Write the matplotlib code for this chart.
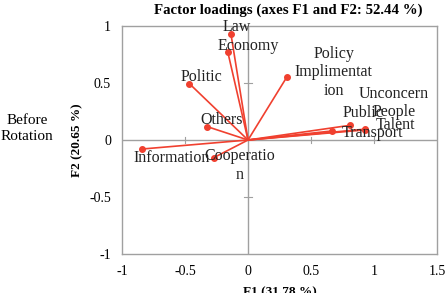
import matplotlib
matplotlib.use('Agg')
import matplotlib.pyplot as plt
import numpy as np

plt.rcParams['font.family'] = ['Liberation Serif', 'DejaVu Serif']

# loadings
variables = ['Law', 'Economy', 'Politic', 'Policy\nImplimentat\nion', 'Others',
             'Public', 'Unconcern\nPeople', 'Talent', 'Transport',
             'Information', 'Cooperatio\nn']
f1 = [-0.135, -0.16, -0.465, 0.307, -0.323, 0.81, 0.928, 0.925, 0.664, -0.839, -0.272]
f2 = [0.927, 0.77, 0.494, 0.55, 0.117, 0.129, 0.095, 0.088, 0.079, -0.079, -0.155]

# label offsets in pixels (dx, dy), y up
label_offsets = [(6, 7), (20, 6), (12, 7), (47, 5), (14, 7), (13, 12),
                 (29, 26), (31, 5), (41, -2), (29, -9), (26, -8)]

xticks = [-1, -0.5, 0, 0.5, 1, 1.5]
yticks = [-1, -0.5, 0, 0.5, 1]

red = '#f0402f'
grey = '#a0a0a0'

fig = plt.figure(figsize=(4.47, 2.93), dpi=100)
ax = fig.add_axes([122 / 447, 1 - 254 / 293, 315 / 447, 228 / 293])

ax.axhline(0, color=grey, lw=1, zorder=1)
ax.axvline(0, color=grey, lw=1, zorder=1)
# small cross ticks on the zero lines
for t in xticks[1:-1]:
    if t != 0:
        ax.plot([t, t], [-0.025, 0.025], color=grey, lw=0.8, zorder=1)
for t in yticks[1:-1]:
    if t != 0:
        ax.plot([-0.03, 0.03], [t, t], color=grey, lw=0.8, zorder=1)

for x, y, name, (dx, dy) in zip(f1, f2, variables, label_offsets):
    ax.plot([0, x], [0, y], color=red, lw=1.2, zorder=2)
    ax.plot(x, y, 'o', color=red, ms=4, zorder=3)
    ax.annotate(name, (x, y), xytext=(dx, dy), textcoords='offset pixels',
                ha='center', va='center', fontsize=11.5, color='#222222',
                linespacing=1.2)

ax.set_xlim(-1, 1.5)
ax.set_ylim(-1, 1)
ax.set_xticks(xticks)
ax.set_yticks(yticks)
ax.set_xticklabels(['-1', '-0.5', '0', '0.5', '1', '1.5'])
ax.set_yticklabels(['-1', '-0.5', '0', '0.5', '1'])
ax.tick_params(length=0, labelsize=10, pad=8)
for s in ax.spines.values():
    s.set_color(grey)
    s.set_linewidth(1)

ax.set_title('Factor loadings (axes F1 and F2: 52.44 %)', fontsize=10.7,
             fontweight='bold', pad=9, x=0.529)
ax.set_xlabel('F1 (31.78 %)', fontsize=9.5, fontweight='bold', labelpad=6)
ax.set_ylabel('F2 (20.65 %)', fontsize=9.5, fontweight='bold', labelpad=4)

fig.text(27 / 447, 1 - 129 / 293, 'Before\nRotation', ha='center', va='center',
         fontsize=11, linespacing=1.3)

fig.savefig('out.png', dpi=100)
